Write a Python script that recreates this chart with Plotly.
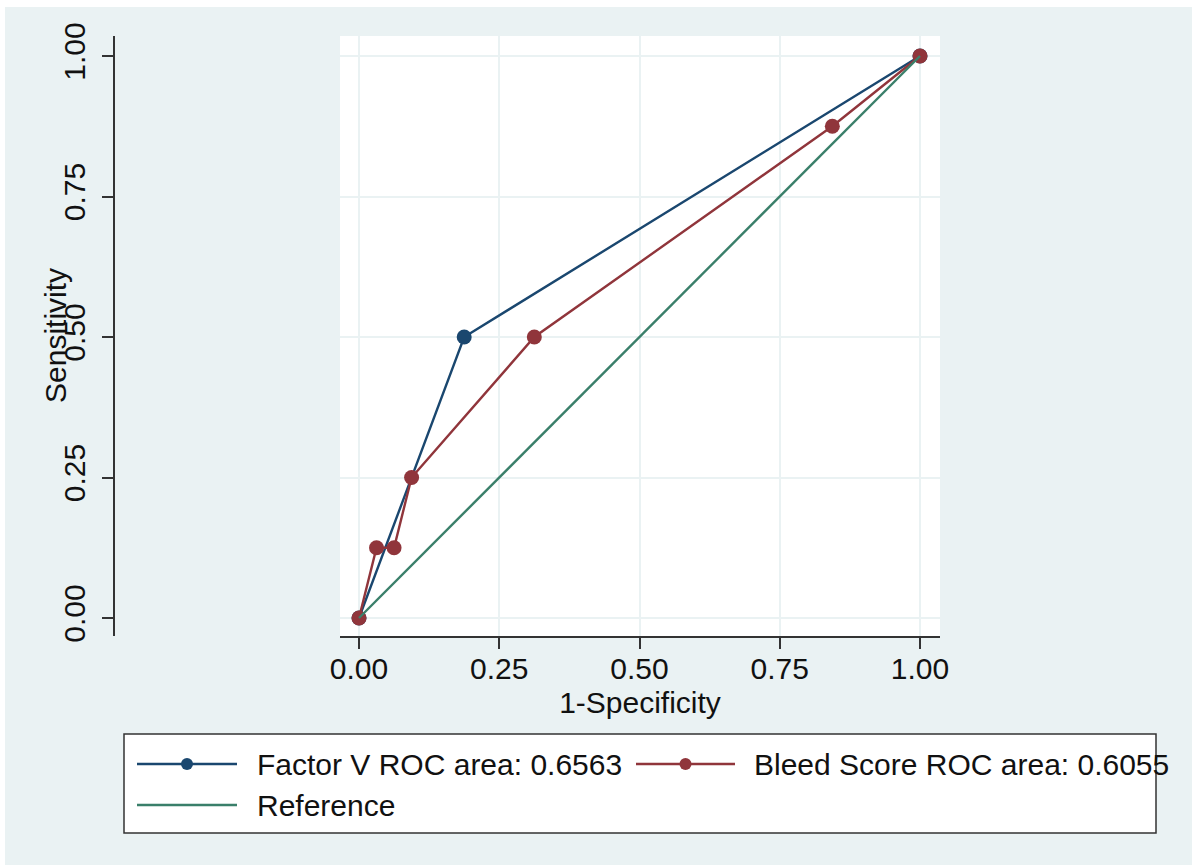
import plotly.graph_objects as go

# ---- data ----
factor_v_fpr = [0.0, 0.1875, 1.0]
factor_v_tpr = [0.0, 0.5, 1.0]
bleed_fpr = [0.0, 0.03125, 0.0625, 0.09375, 0.3125, 0.84375, 1.0]
bleed_tpr = [0.0, 0.125, 0.125, 0.25, 0.5, 0.875, 1.0]
ref_x = [0.0, 1.0]
ref_y = [0.0, 1.0]
tick_vals = [0.0, 0.25, 0.5, 0.75, 1.0]
tick_text = ["0.00", "0.25", "0.50", "0.75", "1.00"]
legend_labels = ["Factor V ROC area: 0.6563", "Bleed Score ROC area: 0.6055", "Reference"]

# ---- style ----
W, H = 1192, 865
BG = "#EAF2F3"
BLUE = "#1A476F"
RED = "#90353B"
GREEN = "#3A7F6A"
AXC = "#333333"
TXT = "#111111"
FONT = "Liberation Sans, Arial, Helvetica, sans-serif"
FS = 30
LW = 2.4


def px(x):
    return x / W


def py(y):
    return 1 - y / H


fig = go.Figure()
fig.add_trace(go.Scatter(x=factor_v_fpr, y=factor_v_tpr, mode="lines+markers",
                         line=dict(color=BLUE, width=LW),
                         marker=dict(color=BLUE, size=15),
                         name=legend_labels[0], showlegend=False))
fig.add_trace(go.Scatter(x=bleed_fpr, y=bleed_tpr, mode="lines+markers",
                         line=dict(color=RED, width=LW),
                         marker=dict(color=RED, size=15),
                         name=legend_labels[1], showlegend=False))
fig.add_trace(go.Scatter(x=ref_x, y=ref_y, mode="lines",
                         line=dict(color=GREEN, width=LW),
                         name=legend_labels[2], showlegend=False))

shapes = []
# thin white border along top and left edges, as in the reference
shapes.append(dict(type="rect", xref="paper", yref="paper", x0=0, x1=1, y0=py(7), y1=1,
                   fillcolor="white", line=dict(width=0), layer="below"))
shapes.append(dict(type="rect", xref="paper", yref="paper", x0=0, x1=px(5), y0=0, y1=1,
                   fillcolor="white", line=dict(width=0), layer="below"))
# legend box
shapes.append(dict(type="rect", xref="paper", yref="paper", x0=px(124), x1=px(1156),
                   y0=py(833), y1=py(734), fillcolor="white",
                   line=dict(color=AXC, width=1.5), layer="above"))
annotations = []
legend_items = [
    (137, 237, 764, BLUE, True, 255, legend_labels[0]),
    (636, 735, 764, RED, True, 752, legend_labels[1]),
    (137, 237, 805, GREEN, False, 255, legend_labels[2]),
]
for x0, x1, yy, col, mk, tx, lab in legend_items:
    shapes.append(dict(type="line", xref="paper", yref="paper", x0=px(x0), x1=px(x1),
                       y0=py(yy), y1=py(yy), line=dict(color=col, width=2.5), layer="above"))
    if mk:
        cx = (x0 + x1) / 2
        r = 6
        shapes.append(dict(type="circle", xref="paper", yref="paper", x0=px(cx - r), x1=px(cx + r),
                           y0=py(yy + r), y1=py(yy - r), fillcolor=col, line=dict(color=col, width=0),
                           layer="above"))
    annotations.append(dict(text=lab, xref="paper", yref="paper", x=px(tx), y=py(yy),
                            xanchor="left", yanchor="middle", showarrow=False,
                            font=dict(family=FONT, size=FS, color=TXT)))
# y-axis title
annotations.append(dict(text="Sensitivity", xref="paper", yref="paper", x=px(55), y=py(336),
                        xanchor="center", yanchor="middle", textangle=-90, showarrow=False,
                        font=dict(family=FONT, size=FS, color=TXT)))

fig.update_layout(
    width=W, height=H,
    margin=dict(l=0, r=0, t=0, b=0, autoexpand=False),
    paper_bgcolor=BG,
    plot_bgcolor="white",
    font=dict(family=FONT, size=FS, color=TXT),
    shapes=shapes,
    annotations=annotations,
    xaxis=dict(
        domain=[px(340), px(940)],
        range=[-19 / 561, 1 + 20 / 561],
        tickvals=tick_vals, ticktext=tick_text,
        ticks="outside", ticklen=11, tickwidth=1.5, tickcolor=AXC,
        ticklabelstandoff=-6,
        showline=True, linecolor=AXC, linewidth=1.5,
        showgrid=True, gridcolor=BG, gridwidth=2, zeroline=False,
        automargin=False,
        tickfont=dict(family=FONT, size=FS, color=TXT),
        title=dict(text="1-Specificity", font=dict(family=FONT, size=FS, color=TXT), standoff=8),
        anchor="y",
    ),
    yaxis=dict(
        domain=[py(636), py(36)],
        range=[-18 / 562, 1 + 20 / 562],
        anchor="free", position=px(114),
        tickvals=tick_vals, ticktext=tick_text, tickangle=-90,
        ticks="outside", ticklen=11, tickwidth=1.5, tickcolor=AXC,
        ticklabelstandoff=5,
        showline=True, linecolor=AXC, linewidth=1.5,
        showgrid=True, gridcolor=BG, gridwidth=2, zeroline=False,
        automargin=False,
        tickfont=dict(family=FONT, size=FS, color=TXT),
    ),
)

# remove the default page margin so the figure fills the 1192x865 window exactly
fig.write_html("out.html", config={"displayModeBar": False},
               post_script="document.body.style.margin='0px';")
